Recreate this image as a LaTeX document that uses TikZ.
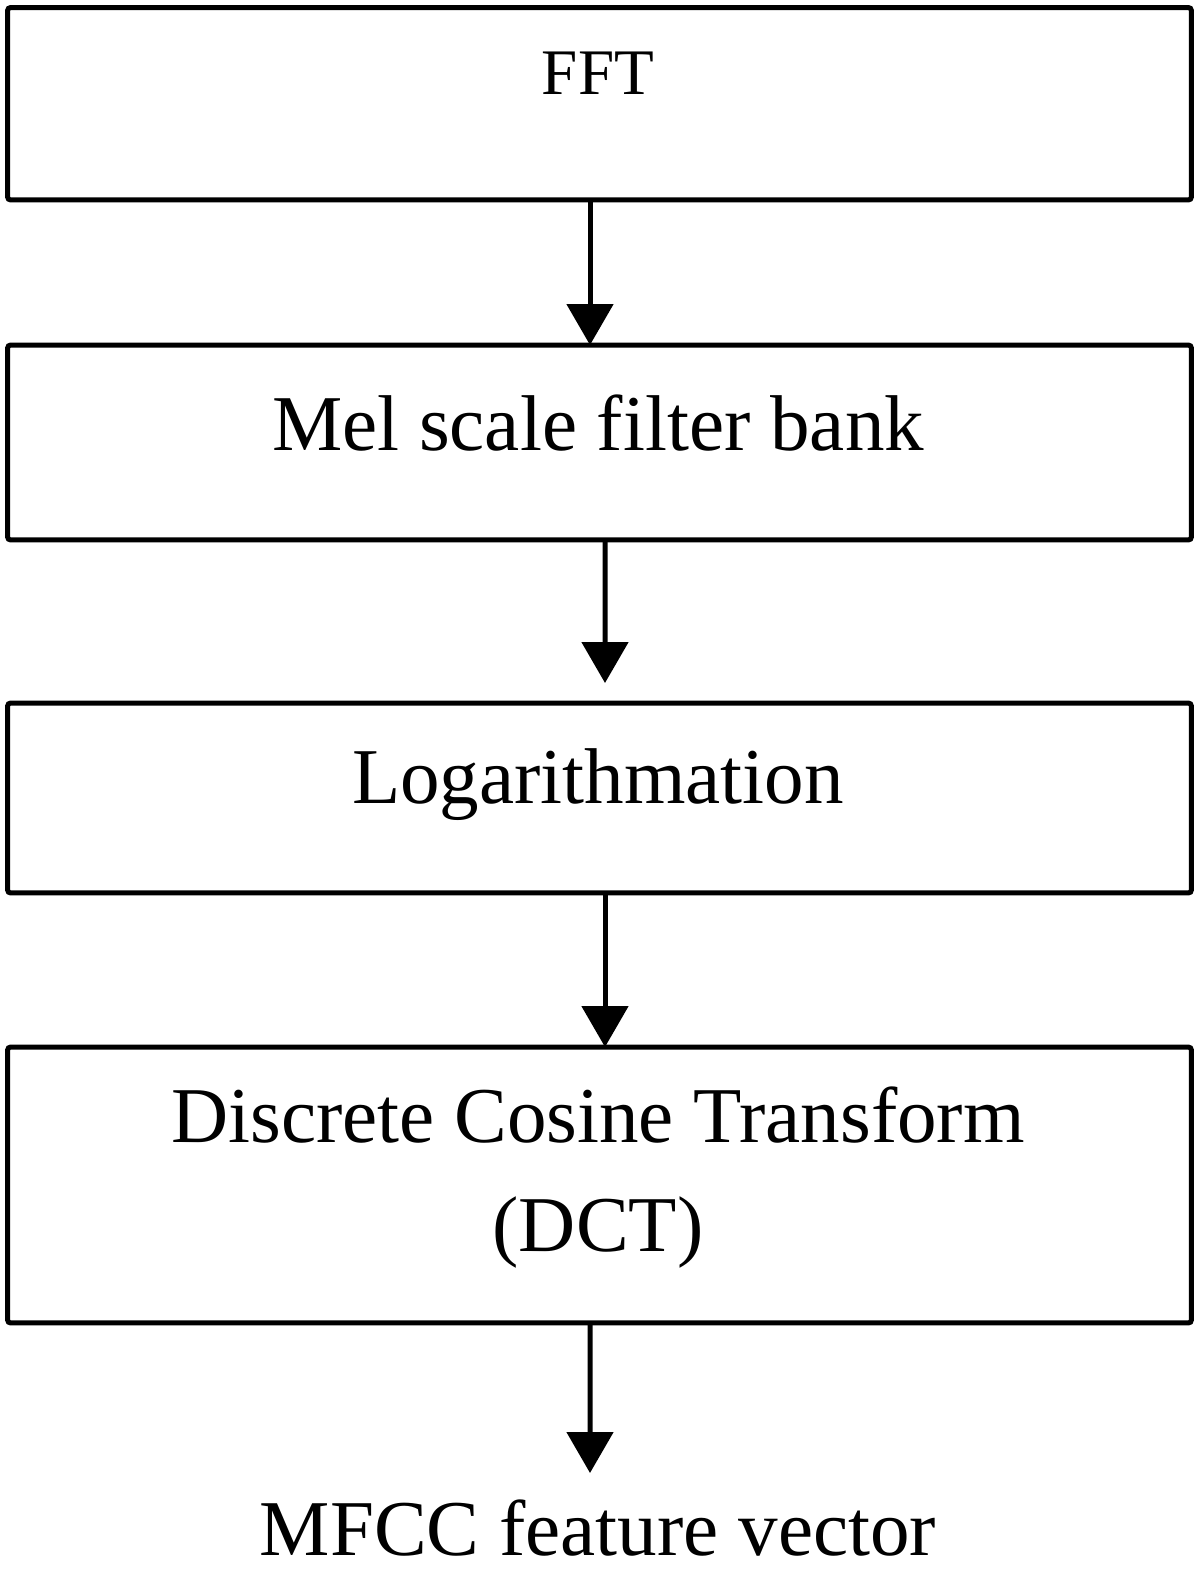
\documentclass[tikz,border=0pt]{standalone}
\usepackage{fontspec}
\setmainfont{Liberation Serif}
\usetikzlibrary{arrows.meta}

\begin{document}
\begin{tikzpicture}[x=0.02cm,y=-0.02cm,
  box/.style={draw, line width=0.1cm, rounded corners=0.06cm, minimum width=23.68cm, inner sep=0pt, outer sep=0pt},
  arr/.style={line width=0.1cm, -{Triangle[length=0.82cm,width=0.92cm]}},
  lbl/.style={anchor=base, inner sep=0pt, font=\fontsize{45}{62}\selectfont}]
\useasboundingbox (0,0) rectangle (1200,1569);
% boxes
\node[box, minimum height=3.85cm] (fft) at (599.5,103.75) {};
\node[box, minimum height=3.9cm] (mel) at (599.5,442.5) {};
\node[box, minimum height=3.8cm] (log) at (599.5,798) {};
\node[box, minimum height=5.52cm] (dct) at (599.5,1185) {};
% texts
\node[lbl, font=\fontsize{37}{40}\selectfont] (fftT) at (598,94) {FFT};
\node[lbl] (melT) at (598,450) {Mel scale filter bank};
\node[lbl] (logT) at (598,803) {Logarithmation};
\node[lbl, anchor=center, align=center] (dctT) at (598,1178) {Discrete Cosine Transform\\(DCT)};
\node[lbl] (mfcc) at (598,1555) {MFCC feature vector};
% arrows
\coordinate (t2) at (605,683);
\coordinate (t4) at (590,1473);
\draw[arr] ([xshift=-0.19cm]fft.south) -- ([xshift=-0.19cm]mel.north);
\draw[arr] ([xshift=0.11cm]mel.south) -- (t2);
\draw[arr] ([xshift=0.11cm]log.south) -- ([xshift=0.11cm]dct.north);
\draw[arr] ([xshift=-0.19cm]dct.south) -- (t4);
\end{tikzpicture}
\end{document}
